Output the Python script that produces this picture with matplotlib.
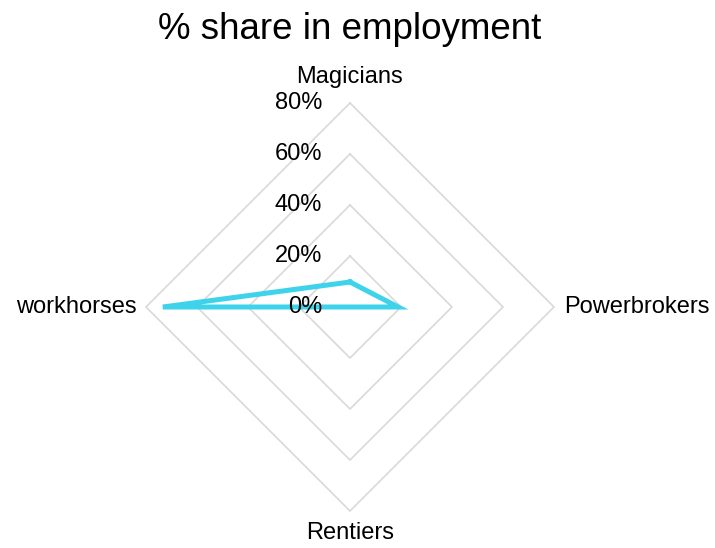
import numpy as np
import matplotlib.pyplot as plt

plt.rcParams['font.family'] = ['Liberation Sans', 'DejaVu Sans']

# categories clockwise from the top
categories = ['Magicians', 'Powerbrokers', 'Rentiers', 'workhorses']
share = [9.8, 18.9, 0.0, 73.4]          # % share in employment
grid_levels = [20, 40, 60, 80]
tick_labels = ['0%', '20%', '40%', '60%', '80%']

W, H, dpi = 715, 548, 100
cx, cy = 350, 241          # centre in pixels (from bottom)
px_per_unit = 204 / 80     # pixels per percentage point

fig = plt.figure(figsize=(W / dpi, H / dpi), dpi=dpi)
ax = fig.add_axes([0, 0, 1, 1])
ax.set_xlim(-cx / px_per_unit, (W - cx) / px_per_unit)
ax.set_ylim(-cy / px_per_unit, (H - cy) / px_per_unit)
ax.axis('off')

# angles: top, right, bottom, left
angles = np.pi / 2 - np.arange(len(categories)) * 2 * np.pi / len(categories)
ux, uy = np.cos(angles), np.sin(angles)

# diamond grid
for lvl in grid_levels:
    gx = np.append(ux * lvl, ux[0] * lvl)
    gy = np.append(uy * lvl, uy[0] * lvl)
    ax.plot(gx, gy, color='#d9d9d9', lw=1.2, zorder=1)

# data polygon
vals = np.array(share)
dx = np.append(ux * vals, ux[0] * vals[0])
dy = np.append(uy * vals, uy[0] * vals[0])
ax.plot(dx, dy, color='#3dd3ea', lw=3.6, solid_joinstyle='miter', zorder=3)

# radial tick labels
for i, lab in enumerate(tick_labels):
    ax.text(-11.0, i * 20, lab, ha='right', va='center', fontsize=17, zorder=4)

# category labels
ax.text(0, 90.0, categories[0], ha='center', va='center', fontsize=17)
ax.text(84, 0, categories[1], ha='left', va='center', fontsize=17)
ax.text(0, -88.8, categories[2], ha='center', va='center', fontsize=17)
ax.text(-83.5, 0, categories[3], ha='right', va='center', fontsize=17)

fig.text(cx / W, 1 - 39 / H, '% share in employment', ha='center', va='baseline',
         fontsize=26.5)

fig.savefig('out.png', dpi=dpi)
